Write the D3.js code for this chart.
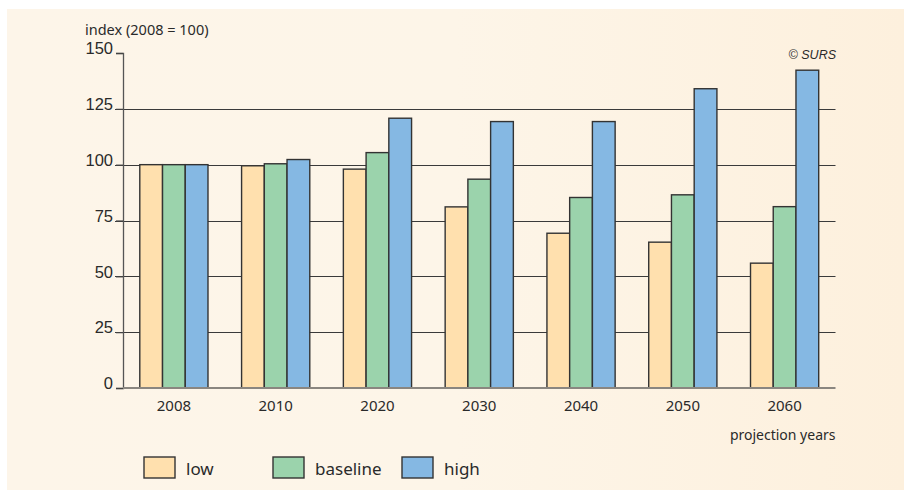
<!DOCTYPE html>
<html><head><meta charset="utf-8">
<script src="https://cdn.jsdelivr.net/npm/d3@7"></script>
<style>html,body{margin:0;padding:0;background:#fff;}svg{display:block;}</style>
</head><body>
<script>
const categories = ["2008","2010","2020","2030","2040","2050","2060"];
const seriesNames = ["low","baseline","high"];
const lowValues = [100, 99.5, 98.0, 81.1, 69.3, 65.3, 55.9];
const baselineValues = [100, 100.4, 105.4, 93.5, 85.3, 86.5, 81.2];
const highValues = [100, 102.3, 120.8, 119.3, 119.3, 134.0, 142.3];
const yTicks = [0, 25, 50, 75, 100, 125, 150];
const colors = ["#ffe0ae", "#9bd3ac", "#85b8e3"];

(function(){
const W = 904, H = 490;
const svg = d3.select("body").append("svg").attr("width", W).attr("height", H);
const defs = svg.append("defs");
const grad = defs.append("linearGradient").attr("id","bg").attr("x1","0").attr("x2","1").attr("y1","0").attr("y2","0");
grad.append("stop").attr("offset","0").attr("stop-color","#fdf5e9");
grad.append("stop").attr("offset","0.5").attr("stop-color","#fdf5e8");
grad.append("stop").attr("offset","1").attr("stop-color","#fdf0dd");
svg.append("rect").attr("x",7).attr("y",9).attr("width",W-7).attr("height",H-9).attr("fill","url(#bg)");

const pLeft = 123, pRight = 835.5, pTop = 53, pBottom = 388;
const x0 = d3.scaleBand().domain(categories).range([pLeft, pRight]).paddingInner(0.33).paddingOuter(0.165);
const x1 = d3.scaleBand().domain(seriesNames).range([0, x0.bandwidth()]).padding(0);
const y = d3.scaleLinear().domain([0,150]).range([pBottom, pTop]);

// gridlines
svg.append("g").selectAll("line").data(yTicks.filter(t => t > 0 && t < 150)).join("line")
  .attr("x1", 115).attr("x2", pRight)
  .attr("y1", d => Math.round(y(d)) + 0.5).attr("y2", d => Math.round(y(d)) + 0.5)
  .attr("stroke", "#3a3a3a").attr("stroke-width", 1.2);

// y axis
const yAxis = d3.axisLeft(y).tickValues(yTicks).tickSize(7).tickPadding(3);
const gy = svg.append("g").attr("transform", `translate(${pLeft},0)`).call(yAxis);
gy.select(".domain").attr("stroke", "#555").attr("stroke-width", 1.3);
gy.selectAll(".tick line").attr("stroke", "#444").attr("stroke-width", 1.2);
gy.selectAll(".tick text").attr("font-family", "Liberation Sans, Arial, sans-serif").attr("font-size", 16.5).attr("fill", "#2a2a2a").attr("dy", "0.05em");

// bars
const data = categories.map((c, i) => ({cat: c, vals: [lowValues[i], baselineValues[i], highValues[i]]}));
const groups = svg.append("g").selectAll("g").data(data).join("g")
  .attr("transform", d => `translate(${x0(d.cat)},0)`);
groups.selectAll("rect").data(d => d.vals.map((v, j) => ({name: seriesNames[j], v, j}))).join("rect")
  .attr("x", d => x1(d.name)).attr("width", x1.bandwidth())
  .attr("y", d => y(d.v)).attr("height", d => y(0) - y(d.v))
  .attr("fill", d => colors[d.j]).attr("stroke", "#333").attr("stroke-width", 1.4);

// x axis
const xAxis = d3.axisBottom(x0).tickSize(0).tickPadding(12);
const gx = svg.append("g").attr("transform", `translate(0,${pBottom})`).call(xAxis);
gx.select(".domain").attr("stroke", "#8a8680").attr("stroke-width", 2).attr("d", `M${pLeft},0H${pRight}`);
gx.selectAll(".tick text").attr("font-family", "Noto Sans, sans-serif").attr("font-size", 15).attr("fill", "#2a2a2a");

// texts
svg.append("text").attr("x", 85).attr("y", 35).text("index (2008 = 100)")
  .attr("font-family", "Noto Sans, sans-serif").attr("font-size", 14.5).attr("fill", "#2a2a2a");
svg.append("text").attr("x", pRight).attr("y", 440).attr("text-anchor", "end").text("projection years")
  .attr("font-family", "Noto Sans, sans-serif").attr("font-size", 14).attr("fill", "#2a2a2a");
svg.append("text").attr("x", 836).attr("y", 59).attr("text-anchor", "end").text("© SURS")
  .attr("font-family", "Liberation Sans, Arial, sans-serif").attr("font-style", "italic").attr("font-size", 12.5).attr("fill", "#2a2a2a");

// legend
const legX = [144, 273, 402];
const leg = svg.append("g").selectAll("g").data(seriesNames).join("g")
  .attr("transform", (d, i) => `translate(${legX[i]},457)`);
leg.append("rect").attr("width", 31).attr("height", 21).attr("fill", (d, i) => colors[i]).attr("stroke", "#333").attr("stroke-width", 1.4);
leg.append("text").attr("x", 42).attr("y", 18).text(d => d)
  .attr("font-family", "Noto Sans, sans-serif").attr("font-size", 17).attr("fill", "#2a2a2a");
})();
</script>
</body></html>
